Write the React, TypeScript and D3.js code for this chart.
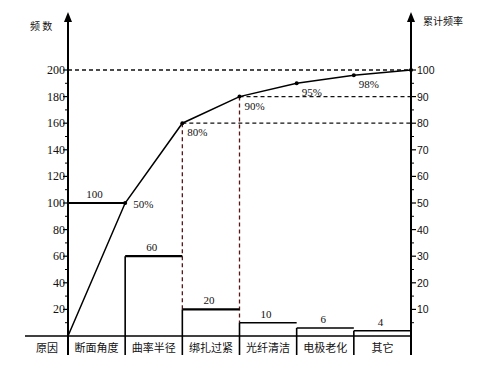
import React from "react";
import { scaleBand, scaleLinear, line } from "d3";

// chart data
const categories = ["断面角度", "曲率半径", "绑扎过紧", "光纤清洁", "电极老化", "其它"];
const counts = [100, 60, 20, 10, 6, 4];
const cumPct = [50, 80, 90, 95, 98, 100];
const leftTicks = [20, 40, 60, 80, 100, 120, 140, 160, 180, 200];
const rightTicks = [10, 20, 30, 40, 50, 60, 70, 80, 90, 100];
const guidePct = [80, 90]; // dashed guide lines

const W = 483;
const H = 369;

export default function App() {
  const x = scaleBand().domain(categories).range([68, 411]).padding(0);
  const y = scaleLinear().domain([0, 200]).range([336, 70]);
  const y2 = scaleLinear().domain([0, 100]).range([336, 70]);

  const left = x.range()[0];
  const right = x.range()[1];
  const bottom = 355;
  const serif = "'Liberation Serif', 'DejaVu Serif', serif";
  const sans = "'Liberation Sans', Arial, sans-serif";
  const cjk = "'Noto Sans CJK SC', sans-serif";

  const pts: [number, number][] = [[left, y2(0)]].concat(
    categories.map((c, i) => [x(c)! + x.bandwidth(), y2(cumPct[i])] as [number, number])
  ) as [number, number][];
  const cumLine = line();

  // label offsets relative to cumulative points
  const pctOff = (i: number) => (i === 0 ? [8, 5] : [5, 13]);

  const minorLeft = leftTicks.map(t => t - 10);
  const minorRight = rightTicks.map(t => t - 5);

  return (
    <svg width={W} height={H} style={{ position: "absolute", left: 0, top: 0, background: "#fff" }}>
      {/* 200 dashed line */}
      <line x1={left} x2={right} y1={y(200)} y2={y(200)} stroke="#111" strokeWidth={1.5} strokeDasharray="4,3" />
      {/* dashed guides */}
      {guidePct.map(p => {
        const i = cumPct.indexOf(p);
        const xx = x(categories[i])! + x.bandwidth();
        return (
          <g key={p}>
            <line x1={xx} x2={right} y1={y2(p)} y2={y2(p)} stroke="#111" strokeWidth={1.3} strokeDasharray="4,3" />
            <line x1={xx} x2={xx} y1={y2(p)} y2={y(counts[i + 1])} stroke="#5a1515" strokeWidth={1.3} strokeDasharray="4,3" />
          </g>
        );
      })}

      {/* bars */}
      {categories.map((c, i) => (
        <g key={c}>
          <line x1={x(c)!} x2={x(c)! + x.bandwidth()} y1={y(counts[i])} y2={y(counts[i])} stroke="#000" strokeWidth={i < 3 ? 2.2 : 1.5} />
          <text x={x(c)! + x.bandwidth() / 2 - 2} y={y(counts[i]) - 5} fontFamily={serif} fontSize={11} textAnchor="middle" fill="#111">
            {counts[i]}
          </text>
        </g>
      ))}
      {/* vertical separators: bar sides down through the label row */}
      {categories.slice(0, -1).map((c, i) => (
        <line key={c} x1={x(c)! + x.bandwidth()} x2={x(c)! + x.bandwidth()} y1={y(counts[i + 1])} y2={bottom} stroke="#000" strokeWidth={1.6} />
      ))}

      {/* baseline */}
      <line x1={25} x2={right} y1={y(0)} y2={y(0)} stroke="#000" strokeWidth={1.6} />

      {/* cumulative line */}
      <path d={cumLine(pts) || ""} fill="none" stroke="#000" strokeWidth={1.5} />
      {pts.slice(1).map((p, i) => (
        <circle key={i} cx={p[0]} cy={p[1]} r={2} fill="#000" />
      ))}
      {pts.slice(1, -1).map((p, i) => (
        <text key={"t" + i} x={p[0] + pctOff(i)[0]} y={p[1] + pctOff(i)[1]} fontFamily={serif} fontSize={11} fill="#111">
          {cumPct[i]}%
        </text>
      ))}

      {/* left axis */}
      <line x1={left} x2={left} y1={20} y2={bottom} stroke="#000" strokeWidth={2} />
      <path d={`M${left},12 L${left - 4},22 L${left + 4},22 Z`} fill="#000" />
      {leftTicks.map(t => (
        <g key={t}>
          <line x1={left - 5} x2={left} y1={y(t)} y2={y(t)} stroke="#000" strokeWidth={1.2} />
          <text x={left - 3} y={y(t) + 4} fontFamily={serif} fontSize={12} textAnchor="end" fill="#111">
            {t}
          </text>
        </g>
      ))}
      {minorLeft.map(t => (
        <line key={t} x1={left - 3} x2={left} y1={y(t)} y2={y(t)} stroke="#000" strokeWidth={1} />
      ))}

      {/* right axis */}
      <line x1={right} x2={right} y1={20} y2={bottom} stroke="#000" strokeWidth={2} />
      <path d={`M${right},12 L${right - 4},22 L${right + 4},22 Z`} fill="#000" />
      {rightTicks.map(t => (
        <g key={t}>
          <line x1={right} x2={right + 5} y1={y2(t)} y2={y2(t)} stroke="#000" strokeWidth={1.2} />
          <text x={right + 6} y={y2(t) + 4} fontFamily={sans} fontSize={10.5} fill="#111">
            {t}
          </text>
        </g>
      ))}
      {minorRight.map(t => (
        <line key={t} x1={right} x2={right + 3} y1={y2(t)} y2={y2(t)} stroke="#000" strokeWidth={1} />
      ))}

      {/* titles */}
      <text x={30} y={30} fontFamily={cjk} fontSize={10} fill="#111">频 数</text>
      <text x={423} y={25} fontFamily={cjk} fontSize={10} fill="#111">累计频率</text>

      {/* category labels */}
      <text x={47} y={352} fontFamily={cjk} fontSize={11} textAnchor="middle" fill="#111">原因</text>
      {categories.map(c => (
        <text key={c} x={x(c)! + x.bandwidth() / 2} y={352} fontFamily={cjk} fontSize={11} textAnchor="middle" fill="#111">
          {c}
        </text>
      ))}
    </svg>
  );
}
